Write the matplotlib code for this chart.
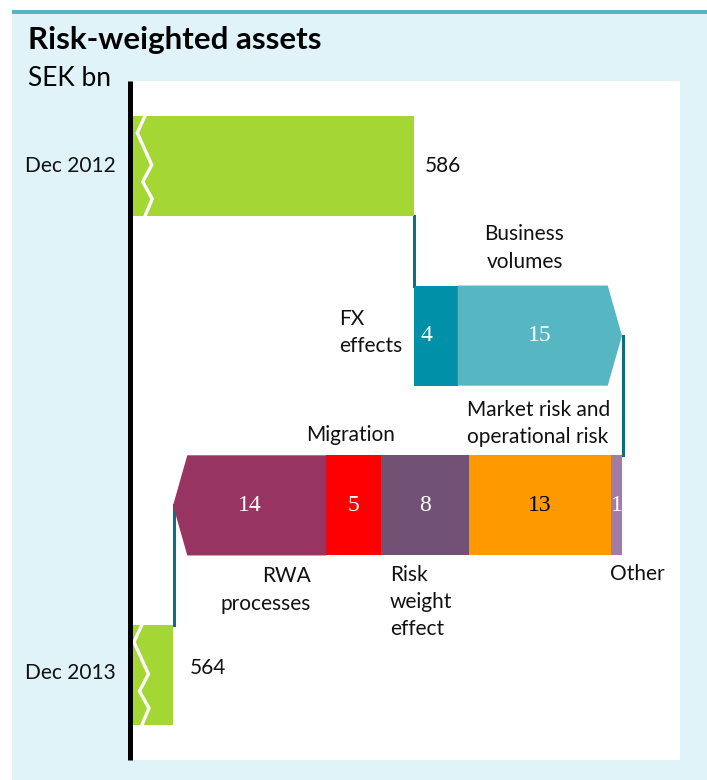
import numpy as np
import matplotlib.pyplot as plt
from matplotlib.patches import Polygon, Rectangle
from matplotlib.lines import Line2D

# Datos
start_label = 'Dec 2012'
end_label = 'Dec 2013'
start_val = 586
end_val = 564
step_labels = ['FX\neffects', 'Business\nvolumes', 'Other', 'Market risk and\noperational risk',
               'Risk\nweight\neffect', 'Migration', 'RWA\nprocesses']
step_vals = [4, 15, -1, -13, -8, -5, -14]
step_rows = [1, 1, 2, 2, 2, 2, 2]
step_colors = ['#0091a8', '#56b6c2', '#a07ca6', '#ff9900', '#725274', '#ff0000', '#983462']
num_colors = ['white', 'white', 'white', 'black', 'white', 'white', 'white']

sans = ['Lato', 'DejaVu Sans']
serif = ['Liberation Serif', 'DejaVu Serif']
green = '#a4d733'
link = '#0e6e7c'

fig = plt.figure(figsize=(7.07, 7.8), dpi=100)
W, H = 707, 780
# fondo azul y linea superior
fig.patches.append(Rectangle((12/W, 0), 1, (H-12)/H, transform=fig.transFigure,
                             facecolor='#e0f3f8', edgecolor='none', zorder=-10))
fig.patches.append(Rectangle((12/W, (H-14)/H), 1, 4/H, transform=fig.transFigure,
                             facecolor='#56b6c2', edgecolor='none', zorder=-9))

ax = fig.add_axes([132/W, (H-760)/H, (680-132)/W, (760-81)/H])
ax.set_xlim(560.25, 610.3)
ax.set_ylim(3.5, -0.5)
for s in ax.spines.values():
    s.set_visible(False)
ax.set_xticks([])
ax.set_yticks([])
ax.set_facecolor('white')

# eje negro
fig.lines.append(Line2D([129.5/W, 129.5/W], [(H-760)/H, (H-81)/H], transform=fig.transFigure,
                        color='black', lw=3.6, solid_capstyle='butt'))

h = 0.59
x0 = ax.get_xlim()[0]

# barras inicio y fin
ax.barh(0, start_val - x0, left=x0, height=h, color=green, zorder=2)
ax.barh(3, end_val - x0, left=x0, height=h, color=green, zorder=2)

# marcas de corte (zigzag)
zx = np.array([1.19, 0.48, 1.80, 0.98, 1.85, 1.19])
zy = np.array([0, 0.17, 0.49, 0.66, 0.83, 1.0])
for r, dx in [(0, 0.0), (3, -0.3)]:
    ax.plot(x0 + zx + dx, r - h/2 + zy*h, color='white', lw=2.4, zorder=3,
            solid_joinstyle='miter')

# escalones
tip = 1.3
cum = start_val
last_in_row = {}
for i, r in enumerate(step_rows):
    last_in_row[r] = i
for i, (v, r, c) in enumerate(zip(step_vals, step_rows, step_colors)):
    a, b = cum, cum + v
    y0, y1 = r - h/2, r + h/2
    if i == last_in_row[r]:
        s = np.sign(v)
        pts = [(a, y0), (b - s*tip, y0), (b, r), (b - s*tip, y1), (a, y1)]
        ax.add_patch(Polygon(pts, closed=True, facecolor=c, edgecolor='none', zorder=2))
    else:
        ax.barh(r, v, left=a, height=h, color=c, zorder=2)
    xc = (a + b)/2
    if abs(v) == 4:   # la etiqueta del FX va algo a la izquierda
        xc = a + 1.1
    ax.text(xc, r, str(abs(v)), ha='center', va='center', color=num_colors[i],
            fontsize=17, family=serif, zorder=4)
    cum = b

# conectores
row1_end = start_val + sum(v for v, r in zip(step_vals, step_rows) if r == 1)
ax.plot([start_val, start_val], [h/2, 1 - h/2], color=link, lw=2.2, zorder=1)
ax.plot([row1_end + 0.1, row1_end + 0.1], [1, 2 - h/2], color=link, lw=2.2, zorder=1)
ax.plot([end_val + 0.05, end_val + 0.05], [2, 3 - h/2], color=link, lw=2.2, zorder=1)

# etiquetas
txt = dict(fontsize=15, family=sans, color='#111111', linespacing=1.45)
label_pos = [(584.9, 0.98, 'right', 'left'), (596.1, 0.484, 'center', 'center'),
             (603.9, 2.404, 'left', 'left'), (597.4, 1.518, 'center', 'left'),
             (583.8, 2.569, 'left', 'left'), (580.2, 1.585, 'center', 'center'),
             (576.6, 2.498, 'right', 'right')]
for lab, (x, y, ha, ma) in zip(step_labels, label_pos):
    ax.text(x, y, lab, ha=ha, va='center', multialignment=ma, **txt)

ax.text(start_val + 1.0, 0, str(start_val), ha='left', va='center', **txt)
ax.text(end_val + 1.55, 2.96, str(end_val), ha='left', va='center', **txt)
ax.text(-(132-25)/548, 0, start_label, transform=ax.get_yaxis_transform(),
        ha='left', va='center', **txt)
ax.text(-(132-25)/548, 2.99, end_label, transform=ax.get_yaxis_transform(),
        ha='left', va='center', **txt)

fig.text(28/W, 1 - 40/H, 'Risk-weighted assets', fontsize=22.5, fontweight='bold',
         family=sans, ha='left', va='center')
fig.text(28/W, 1 - 78/H, 'SEK bn', fontsize=19, family=sans, ha='left', va='center')

plt.savefig('out.png', dpi=100)
